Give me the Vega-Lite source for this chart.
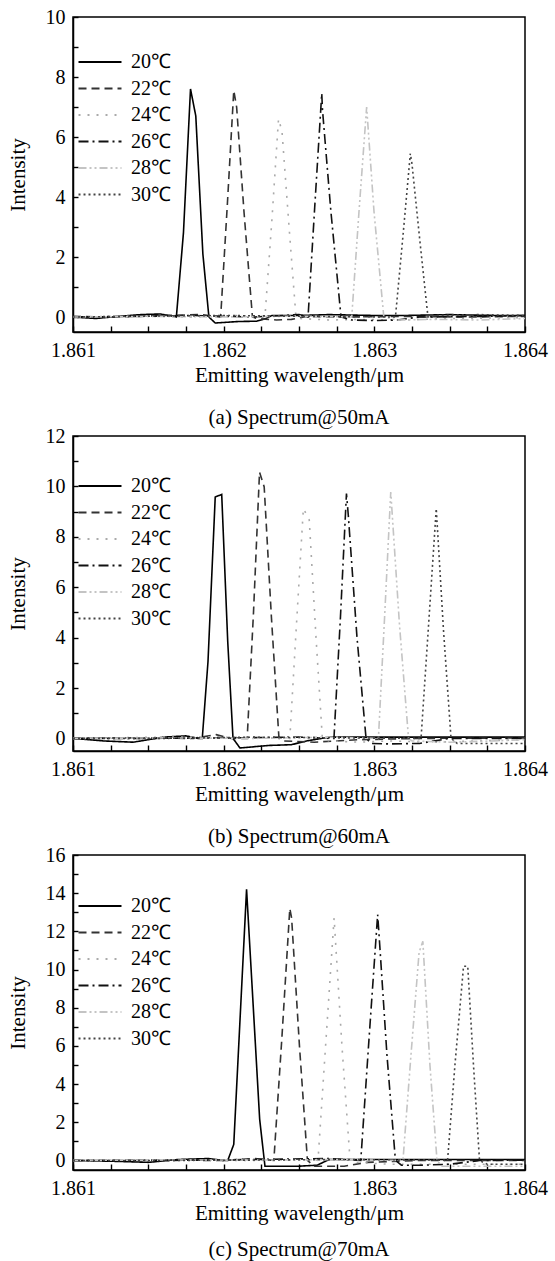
{
  "$schema": "https://vega.github.io/schema/vega-lite/v6.json",
  "background": "white",
  "padding": {"left": 6, "top": 6, "right": 0, "bottom": 0},
  "spacing": -4,
  "config": {
    "font": "Liberation Serif",
    "axis": {"labelFont": "Liberation Serif", "titleFont": "Liberation Serif", "labelFontSize": 20, "titleFontSize": 21, "titleFontWeight": "normal", "labelColor": "black", "titleColor": "black", "domainColor": "black", "tickColor": "black", "grid": false, "domainWidth": 1.5, "tickWidth": 1.4, "labelOverlap": false, "labelFlush": false, "ticks": true},
    "view": {"stroke": "black", "strokeWidth": 1.5},
    "title": {"font": "Liberation Serif", "fontSize": 21, "fontWeight": "normal", "color": "black"},
    "legend": {"labelFont": "Liberation Serif", "labelFontSize": 20, "labelColor": "black"}
  },
  "data": {"values": [
    {"p":"a","t":"20℃","w":1.861,"v":0},{"p":"a","t":"20℃","w":1.86115,"v":-0.05},{"p":"a","t":"20℃","w":1.8613,"v":0.02},{"p":"a","t":"20℃","w":1.86145,"v":0.08},{"p":"a","t":"20℃","w":1.86158,"v":0.1},{"p":"a","t":"20℃","w":1.86167,"v":0.02},{"p":"a","t":"20℃","w":1.861686,"v":0},{"p":"a","t":"20℃","w":1.861733,"v":2.8},{"p":"a","t":"20℃","w":1.86178,"v":7.6},{"p":"a","t":"20℃","w":1.861815,"v":6.7},{"p":"a","t":"20℃","w":1.861862,"v":2.1},{"p":"a","t":"20℃","w":1.861902,"v":0},{"p":"a","t":"20℃","w":1.861944,"v":-0.2},{"p":"a","t":"20℃","w":1.8621,"v":-0.15},{"p":"a","t":"20℃","w":1.86222,"v":-0.14},{"p":"a","t":"20℃","w":1.86228,"v":-0.05},{"p":"a","t":"20℃","w":1.86232,"v":0.05},{"p":"a","t":"20℃","w":1.8625,"v":0.05},{"p":"a","t":"20℃","w":1.8627,"v":0.08},{"p":"a","t":"20℃","w":1.863,"v":0.05},{"p":"a","t":"20℃","w":1.8632,"v":0.05},{"p":"a","t":"20℃","w":1.8635,"v":0.08},{"p":"a","t":"20℃","w":1.8638,"v":0.05},{"p":"a","t":"20℃","w":1.864,"v":0.05},
    {"p":"a","t":"22℃","w":1.861,"v":0.02},{"p":"a","t":"22℃","w":1.8613,"v":0},{"p":"a","t":"22℃","w":1.8616,"v":0.05},{"p":"a","t":"22℃","w":1.86185,"v":0.08},{"p":"a","t":"22℃","w":1.86194,"v":0.02},{"p":"a","t":"22℃","w":1.86198,"v":0},{"p":"a","t":"22℃","w":1.862025,"v":3.8},{"p":"a","t":"22℃","w":1.862067,"v":7.55},{"p":"a","t":"22℃","w":1.862086,"v":7.0},{"p":"a","t":"22℃","w":1.862135,"v":3.5},{"p":"a","t":"22℃","w":1.862191,"v":0},{"p":"a","t":"22℃","w":1.86222,"v":-0.05},{"p":"a","t":"22℃","w":1.86235,"v":-0.1},{"p":"a","t":"22℃","w":1.86245,"v":-0.08},{"p":"a","t":"22℃","w":1.86255,"v":0.02},{"p":"a","t":"22℃","w":1.8628,"v":0},{"p":"a","t":"22℃","w":1.8632,"v":0.02},{"p":"a","t":"22℃","w":1.8636,"v":0},{"p":"a","t":"22℃","w":1.864,"v":0.02},
    {"p":"a","t":"24℃","w":1.861,"v":0},{"p":"a","t":"24℃","w":1.8614,"v":0.03},{"p":"a","t":"24℃","w":1.8618,"v":0},{"p":"a","t":"24℃","w":1.8621,"v":0.05},{"p":"a","t":"24℃","w":1.862274,"v":0},{"p":"a","t":"24℃","w":1.862321,"v":3.3},{"p":"a","t":"24℃","w":1.862364,"v":6.6},{"p":"a","t":"24℃","w":1.862387,"v":6.2},{"p":"a","t":"24℃","w":1.862434,"v":3.0},{"p":"a","t":"24℃","w":1.86248,"v":0},{"p":"a","t":"24℃","w":1.8625,"v":-0.05},{"p":"a","t":"24℃","w":1.8627,"v":-0.1},{"p":"a","t":"24℃","w":1.8629,"v":-0.08},{"p":"a","t":"24℃","w":1.8632,"v":-0.1},{"p":"a","t":"24℃","w":1.8635,"v":-0.05},{"p":"a","t":"24℃","w":1.864,"v":-0.02},
    {"p":"a","t":"26℃","w":1.861,"v":0},{"p":"a","t":"26℃","w":1.8614,"v":0.02},{"p":"a","t":"26℃","w":1.8618,"v":0.05},{"p":"a","t":"26℃","w":1.8622,"v":0},{"p":"a","t":"26℃","w":1.8625,"v":0.08},{"p":"a","t":"26℃","w":1.86256,"v":0},{"p":"a","t":"26℃","w":1.862606,"v":3.8},{"p":"a","t":"26℃","w":1.862651,"v":7.45},{"p":"a","t":"26℃","w":1.862656,"v":6.9},{"p":"a","t":"26℃","w":1.862712,"v":3.5},{"p":"a","t":"26℃","w":1.862779,"v":0},{"p":"a","t":"26℃","w":1.86285,"v":-0.1},{"p":"a","t":"26℃","w":1.863,"v":-0.12},{"p":"a","t":"26℃","w":1.86315,"v":-0.1},{"p":"a","t":"26℃","w":1.8633,"v":0},{"p":"a","t":"26℃","w":1.8637,"v":0.02},{"p":"a","t":"26℃","w":1.864,"v":0.05},
    {"p":"a","t":"28℃","w":1.861,"v":0},{"p":"a","t":"28℃","w":1.8615,"v":0.02},{"p":"a","t":"28℃","w":1.862,"v":0},{"p":"a","t":"28℃","w":1.8625,"v":0.03},{"p":"a","t":"28℃","w":1.86285,"v":0},{"p":"a","t":"28℃","w":1.862898,"v":3.5},{"p":"a","t":"28℃","w":1.862949,"v":7.0},{"p":"a","t":"28℃","w":1.862998,"v":3.5},{"p":"a","t":"28℃","w":1.863063,"v":0},{"p":"a","t":"28℃","w":1.86315,"v":-0.1},{"p":"a","t":"28℃","w":1.8634,"v":-0.08},{"p":"a","t":"28℃","w":1.8637,"v":-0.1},{"p":"a","t":"28℃","w":1.864,"v":-0.05},
    {"p":"a","t":"30℃","w":1.861,"v":0},{"p":"a","t":"30℃","w":1.8615,"v":0.03},{"p":"a","t":"30℃","w":1.862,"v":0.05},{"p":"a","t":"30℃","w":1.8626,"v":0.02},{"p":"a","t":"30℃","w":1.86314,"v":0},{"p":"a","t":"30℃","w":1.86319,"v":2.7},{"p":"a","t":"30℃","w":1.863239,"v":5.45},{"p":"a","t":"30℃","w":1.86325,"v":5.1},{"p":"a","t":"30℃","w":1.863303,"v":2.5},{"p":"a","t":"30℃","w":1.863356,"v":0},{"p":"a","t":"30℃","w":1.8634,"v":0.05},{"p":"a","t":"30℃","w":1.8637,"v":0.08},{"p":"a","t":"30℃","w":1.864,"v":0.05},

    {"p":"b","t":"20℃","w":1.861,"v":0},{"p":"b","t":"20℃","w":1.8612,"v":-0.1},{"p":"b","t":"20℃","w":1.8614,"v":-0.15},{"p":"b","t":"20℃","w":1.8616,"v":0.05},{"p":"b","t":"20℃","w":1.86175,"v":0.1},{"p":"b","t":"20℃","w":1.86183,"v":0},{"p":"b","t":"20℃","w":1.861858,"v":0},{"p":"b","t":"20℃","w":1.861896,"v":3.05},{"p":"b","t":"20℃","w":1.861944,"v":9.58},{"p":"b","t":"20℃","w":1.861987,"v":9.68},{"p":"b","t":"20℃","w":1.862027,"v":3.84},{"p":"b","t":"20℃","w":1.862062,"v":0},{"p":"b","t":"20℃","w":1.862108,"v":-0.38},{"p":"b","t":"20℃","w":1.8623,"v":-0.28},{"p":"b","t":"20℃","w":1.86245,"v":-0.25},{"p":"b","t":"20℃","w":1.86255,"v":-0.1},{"p":"b","t":"20℃","w":1.8627,"v":0.05},{"p":"b","t":"20℃","w":1.863,"v":0.05},{"p":"b","t":"20℃","w":1.8634,"v":0.05},{"p":"b","t":"20℃","w":1.864,"v":0.05},
    {"p":"b","t":"22℃","w":1.861,"v":0},{"p":"b","t":"22℃","w":1.8614,"v":0.02},{"p":"b","t":"22℃","w":1.8618,"v":0},{"p":"b","t":"22℃","w":1.86195,"v":0.15},{"p":"b","t":"22℃","w":1.86205,"v":0},{"p":"b","t":"22℃","w":1.862156,"v":0},{"p":"b","t":"22℃","w":1.862198,"v":5.0},{"p":"b","t":"22℃","w":1.862238,"v":10.57},{"p":"b","t":"22℃","w":1.862269,"v":9.98},{"p":"b","t":"22℃","w":1.862317,"v":4.8},{"p":"b","t":"22℃","w":1.862367,"v":0},{"p":"b","t":"22℃","w":1.8624,"v":-0.1},{"p":"b","t":"22℃","w":1.8626,"v":-0.15},{"p":"b","t":"22℃","w":1.8629,"v":-0.05},{"p":"b","t":"22℃","w":1.8633,"v":0},{"p":"b","t":"22℃","w":1.864,"v":0.02},
    {"p":"b","t":"24℃","w":1.861,"v":0},{"p":"b","t":"24℃","w":1.8616,"v":0.05},{"p":"b","t":"24℃","w":1.862,"v":0.05},{"p":"b","t":"24℃","w":1.8623,"v":0.02},{"p":"b","t":"24℃","w":1.862439,"v":0},{"p":"b","t":"24℃","w":1.862483,"v":4.5},{"p":"b","t":"24℃","w":1.862529,"v":9.12},{"p":"b","t":"24℃","w":1.862568,"v":8.67},{"p":"b","t":"24℃","w":1.862613,"v":4.0},{"p":"b","t":"24℃","w":1.862655,"v":0},{"p":"b","t":"24℃","w":1.8627,"v":-0.1},{"p":"b","t":"24℃","w":1.8629,"v":-0.15},{"p":"b","t":"24℃","w":1.8631,"v":-0.1},{"p":"b","t":"24℃","w":1.8634,"v":-0.15},{"p":"b","t":"24℃","w":1.8637,"v":-0.1},{"p":"b","t":"24℃","w":1.864,"v":-0.05},
    {"p":"b","t":"26℃","w":1.861,"v":0},{"p":"b","t":"26℃","w":1.8615,"v":0},{"p":"b","t":"26℃","w":1.862,"v":0.02},{"p":"b","t":"26℃","w":1.8625,"v":0.05},{"p":"b","t":"26℃","w":1.862732,"v":0},{"p":"b","t":"26℃","w":1.862775,"v":4.8},{"p":"b","t":"26℃","w":1.862815,"v":9.72},{"p":"b","t":"26℃","w":1.862827,"v":8.87},{"p":"b","t":"26℃","w":1.862885,"v":4.0},{"p":"b","t":"26℃","w":1.862945,"v":0},{"p":"b","t":"26℃","w":1.86298,"v":-0.2},{"p":"b","t":"26℃","w":1.8631,"v":-0.22},{"p":"b","t":"26℃","w":1.8633,"v":-0.2},{"p":"b","t":"26℃","w":1.8635,"v":0},{"p":"b","t":"26℃","w":1.864,"v":0},
    {"p":"b","t":"28℃","w":1.861,"v":0},{"p":"b","t":"28℃","w":1.8616,"v":0.02},{"p":"b","t":"28℃","w":1.8622,"v":0},{"p":"b","t":"28℃","w":1.8627,"v":0.05},{"p":"b","t":"28℃","w":1.863027,"v":0},{"p":"b","t":"28℃","w":1.863068,"v":4.8},{"p":"b","t":"28℃","w":1.863109,"v":9.78},{"p":"b","t":"28℃","w":1.863167,"v":4.5},{"p":"b","t":"28℃","w":1.863227,"v":0},{"p":"b","t":"28℃","w":1.86325,"v":-0.1},{"p":"b","t":"28℃","w":1.8635,"v":-0.15},{"p":"b","t":"28℃","w":1.8638,"v":-0.1},{"p":"b","t":"28℃","w":1.864,"v":-0.05},
    {"p":"b","t":"30℃","w":1.861,"v":0},{"p":"b","t":"30℃","w":1.8616,"v":0},{"p":"b","t":"30℃","w":1.8622,"v":0.05},{"p":"b","t":"30℃","w":1.8628,"v":0.02},{"p":"b","t":"30℃","w":1.86331,"v":0},{"p":"b","t":"30℃","w":1.86336,"v":4.5},{"p":"b","t":"30℃","w":1.863411,"v":9.12},{"p":"b","t":"30℃","w":1.863459,"v":4.3},{"p":"b","t":"30℃","w":1.863509,"v":0},{"p":"b","t":"30℃","w":1.86355,"v":-0.2},{"p":"b","t":"30℃","w":1.8637,"v":-0.2},{"p":"b","t":"30℃","w":1.8639,"v":-0.2},{"p":"b","t":"30℃","w":1.864,"v":-0.2},

    {"p":"c","t":"20℃","w":1.861,"v":0},{"p":"c","t":"20℃","w":1.8613,"v":-0.05},{"p":"c","t":"20℃","w":1.8615,"v":-0.1},{"p":"c","t":"20℃","w":1.8617,"v":0.05},{"p":"c","t":"20℃","w":1.8619,"v":0.1},{"p":"c","t":"20℃","w":1.862,"v":0},{"p":"c","t":"20℃","w":1.862027,"v":0},{"p":"c","t":"20℃","w":1.862067,"v":0.84},{"p":"c","t":"20℃","w":1.862152,"v":14.2},{"p":"c","t":"20℃","w":1.862239,"v":2.15},{"p":"c","t":"20℃","w":1.862274,"v":-0.3},{"p":"c","t":"20℃","w":1.8625,"v":-0.3},{"p":"c","t":"20℃","w":1.86262,"v":-0.25},{"p":"c","t":"20℃","w":1.8627,"v":0.05},{"p":"c","t":"20℃","w":1.863,"v":0.05},{"p":"c","t":"20℃","w":1.8634,"v":0.05},{"p":"c","t":"20℃","w":1.864,"v":0.05},
    {"p":"c","t":"22℃","w":1.861,"v":0},{"p":"c","t":"22℃","w":1.8615,"v":0.02},{"p":"c","t":"22℃","w":1.862,"v":0},{"p":"c","t":"22℃","w":1.8622,"v":0.1},{"p":"c","t":"22℃","w":1.862333,"v":0},{"p":"c","t":"22℃","w":1.862387,"v":6.5},{"p":"c","t":"22℃","w":1.862439,"v":13.2},{"p":"c","t":"22℃","w":1.862451,"v":12.7},{"p":"c","t":"22℃","w":1.862503,"v":6.0},{"p":"c","t":"22℃","w":1.862556,"v":0},{"p":"c","t":"22℃","w":1.8626,"v":-0.3},{"p":"c","t":"22℃","w":1.8628,"v":-0.3},{"p":"c","t":"22℃","w":1.86295,"v":-0.1},{"p":"c","t":"22℃","w":1.8633,"v":0},{"p":"c","t":"22℃","w":1.864,"v":0},
    {"p":"c","t":"24℃","w":1.861,"v":0},{"p":"c","t":"24℃","w":1.8616,"v":0.03},{"p":"c","t":"24℃","w":1.8622,"v":0},{"p":"c","t":"24℃","w":1.8626,"v":0.05},{"p":"c","t":"24℃","w":1.862626,"v":0},{"p":"c","t":"24℃","w":1.862679,"v":6.3},{"p":"c","t":"24℃","w":1.862733,"v":12.7},{"p":"c","t":"24℃","w":1.862785,"v":6.0},{"p":"c","t":"24℃","w":1.862839,"v":0},{"p":"c","t":"24℃","w":1.86288,"v":-0.1},{"p":"c","t":"24℃","w":1.8631,"v":-0.2},{"p":"c","t":"24℃","w":1.8634,"v":-0.2},{"p":"c","t":"24℃","w":1.8637,"v":-0.2},{"p":"c","t":"24℃","w":1.864,"v":-0.2},
    {"p":"c","t":"26℃","w":1.861,"v":0},{"p":"c","t":"26℃","w":1.8616,"v":0},{"p":"c","t":"26℃","w":1.8622,"v":0.05},{"p":"c","t":"26℃","w":1.8627,"v":0.1},{"p":"c","t":"26℃","w":1.86291,"v":0},{"p":"c","t":"26℃","w":1.862965,"v":6.4},{"p":"c","t":"26℃","w":1.863022,"v":12.88},{"p":"c","t":"26℃","w":1.863032,"v":11.74},{"p":"c","t":"26℃","w":1.863084,"v":5.5},{"p":"c","t":"26℃","w":1.86314,"v":0},{"p":"c","t":"26℃","w":1.86318,"v":-0.25},{"p":"c","t":"26℃","w":1.8633,"v":-0.25},{"p":"c","t":"26℃","w":1.8635,"v":-0.2},{"p":"c","t":"26℃","w":1.8637,"v":0},{"p":"c","t":"26℃","w":1.864,"v":0.02},
    {"p":"c","t":"28℃","w":1.861,"v":0},{"p":"c","t":"28℃","w":1.8616,"v":0.02},{"p":"c","t":"28℃","w":1.8622,"v":0.02},{"p":"c","t":"28℃","w":1.8628,"v":0.05},{"p":"c","t":"28℃","w":1.86319,"v":0},{"p":"c","t":"28℃","w":1.863243,"v":5.5},{"p":"c","t":"28℃","w":1.863297,"v":10.9},{"p":"c","t":"28℃","w":1.863322,"v":11.48},{"p":"c","t":"28℃","w":1.863369,"v":5.0},{"p":"c","t":"28℃","w":1.863416,"v":0},{"p":"c","t":"28℃","w":1.86345,"v":-0.3},{"p":"c","t":"28℃","w":1.8637,"v":-0.3},{"p":"c","t":"28℃","w":1.864,"v":-0.3},
    {"p":"c","t":"30℃","w":1.861,"v":0},{"p":"c","t":"30℃","w":1.8616,"v":0},{"p":"c","t":"30℃","w":1.8622,"v":0.02},{"p":"c","t":"30℃","w":1.8628,"v":0.05},{"p":"c","t":"30℃","w":1.8634,"v":0.02},{"p":"c","t":"30℃","w":1.863486,"v":0},{"p":"c","t":"30℃","w":1.863535,"v":5.0},{"p":"c","t":"30℃","w":1.863592,"v":10.17},{"p":"c","t":"30℃","w":1.86362,"v":10.17},{"p":"c","t":"30℃","w":1.863658,"v":5.0},{"p":"c","t":"30℃","w":1.863698,"v":0},{"p":"c","t":"30℃","w":1.86375,"v":-0.2},{"p":"c","t":"30℃","w":1.864,"v":-0.2}
  ]},
  "vconcat": [
    {
      "width": 452, "height": 315,
      "title": {"text": "(a) Spectrum@50mA", "orient": "bottom", "anchor": "middle", "frame": "group", "offset": 22},
      "transform": [{"filter": "datum.p == 'a'"}],
      "mark": {"type": "line", "strokeWidth": 1.6, "clip": true},
      "encoding": {
        "x": {"field": "w", "type": "quantitative", "scale": {"domain": [1.861, 1.864], "nice": false, "zero": false},
              "axis": {"title": "Emitting wavelength/μm", "values": [1.861,1.86125,1.8615,1.86175,1.862,1.86225,1.8625,1.86275,1.863,1.86325,1.8635,1.86375,1.864],
                       "labelExpr": "abs(datum.value*1000-round(datum.value*1000))<0.001 ? format(datum.value,'.3f') : ''",
                       "tickSize": -6, "labelPadding": 14, "titlePadding": 4}},
        "y": {"field": "v", "type": "quantitative", "scale": {"domain": [-0.5, 10], "nice": false, "zero": false},
              "axis": {"title": "Intensity", "values": [0,1,2,3,4,5,6,7,8,9,10],
                       "labelExpr": "datum.value % 2 == 0 ? datum.value : ''",
                       "tickSize": -5, "labelPadding": 13, "titlePadding": 17}},
        "color": {"field": "t", "type": "nominal",
                  "scale": {"domain": ["20℃","22℃","24℃","26℃","28℃","30℃"], "range": ["#000000","#333333","#aaaaaa","#111111","#c4c4c4","#444444"]},
                  "legend": {"title": null, "orient": "none", "legendX": 15, "legendY": 33, "symbolType": "M-2,0H2", "symbolSize": 462, "symbolStrokeWidth": 2, "labelOffset": 19, "rowPadding": 4.5}},
        "strokeDash": {"field": "t", "type": "nominal",
                  "scale": {"domain": ["20℃","22℃","24℃","26℃","28℃","30℃"], "range": [[1,0],[8,5],[2,7],[10,4,2,4],[8,3,2,3,2,3],[2,3]]},
                  "legend": {"title": null, "orient": "none", "legendX": 15, "legendY": 33, "symbolType": "M-2,0H2", "symbolSize": 462, "symbolStrokeWidth": 2, "labelOffset": 19, "rowPadding": 4.5}}
      }
    },
    {
      "width": 452, "height": 315,
      "title": {"text": "(b) Spectrum@60mA", "orient": "bottom", "anchor": "middle", "frame": "group", "offset": 22},
      "transform": [{"filter": "datum.p == 'b'"}],
      "mark": {"type": "line", "strokeWidth": 1.6, "clip": true},
      "encoding": {
        "x": {"field": "w", "type": "quantitative", "scale": {"domain": [1.861, 1.864], "nice": false, "zero": false},
              "axis": {"title": "Emitting wavelength/μm", "values": [1.861,1.86125,1.8615,1.86175,1.862,1.86225,1.8625,1.86275,1.863,1.86325,1.8635,1.86375,1.864],
                       "labelExpr": "abs(datum.value*1000-round(datum.value*1000))<0.001 ? format(datum.value,'.3f') : ''",
                       "tickSize": -6, "labelPadding": 14, "titlePadding": 4}},
        "y": {"field": "v", "type": "quantitative", "scale": {"domain": [-0.5, 12], "nice": false, "zero": false},
              "axis": {"title": "Intensity", "values": [0,1,2,3,4,5,6,7,8,9,10,11,12],
                       "labelExpr": "datum.value % 2 == 0 ? datum.value : ''",
                       "tickSize": -5, "labelPadding": 13, "titlePadding": 17}},
        "color": {"field": "t", "type": "nominal",
                  "scale": {"domain": ["20℃","22℃","24℃","26℃","28℃","30℃"], "range": ["#000000","#333333","#aaaaaa","#111111","#c4c4c4","#444444"]},
                  "legend": {"title": null, "orient": "none", "legendX": 15, "legendY": 38, "symbolType": "M-2,0H2", "symbolSize": 462, "symbolStrokeWidth": 2, "labelOffset": 19, "rowPadding": 4.5}},
        "strokeDash": {"field": "t", "type": "nominal",
                  "scale": {"domain": ["20℃","22℃","24℃","26℃","28℃","30℃"], "range": [[1,0],[8,5],[2,7],[10,4,2,4],[8,3,2,3,2,3],[2,3]]},
                  "legend": {"title": null, "orient": "none", "legendX": 15, "legendY": 38, "symbolType": "M-2,0H2", "symbolSize": 462, "symbolStrokeWidth": 2, "labelOffset": 19, "rowPadding": 4.5}}
      }
    },
    {
      "width": 452, "height": 315,
      "title": {"text": "(c) Spectrum@70mA", "orient": "bottom", "anchor": "middle", "frame": "group", "offset": 16},
      "transform": [{"filter": "datum.p == 'c'"}],
      "mark": {"type": "line", "strokeWidth": 1.6, "clip": true},
      "encoding": {
        "x": {"field": "w", "type": "quantitative", "scale": {"domain": [1.861, 1.864], "nice": false, "zero": false},
              "axis": {"title": "Emitting wavelength/μm", "values": [1.861,1.86125,1.8615,1.86175,1.862,1.86225,1.8625,1.86275,1.863,1.86325,1.8635,1.86375,1.864],
                       "labelExpr": "abs(datum.value*1000-round(datum.value*1000))<0.001 ? format(datum.value,'.3f') : ''",
                       "tickSize": -6, "labelPadding": 14, "titlePadding": 4}},
        "y": {"field": "v", "type": "quantitative", "scale": {"domain": [-0.5, 16], "nice": false, "zero": false},
              "axis": {"title": "Intensity", "values": [0,1,2,3,4,5,6,7,8,9,10,11,12,13,14,15,16],
                       "labelExpr": "datum.value % 2 == 0 ? datum.value : ''",
                       "tickSize": -5, "labelPadding": 13, "titlePadding": 17}},
        "color": {"field": "t", "type": "nominal",
                  "scale": {"domain": ["20℃","22℃","24℃","26℃","28℃","30℃"], "range": ["#000000","#333333","#aaaaaa","#111111","#c4c4c4","#444444"]},
                  "legend": {"title": null, "orient": "none", "legendX": 15, "legendY": 39, "symbolType": "M-2,0H2", "symbolSize": 462, "symbolStrokeWidth": 2, "labelOffset": 19, "rowPadding": 4.5}},
        "strokeDash": {"field": "t", "type": "nominal",
                  "scale": {"domain": ["20℃","22℃","24℃","26℃","28℃","30℃"], "range": [[1,0],[8,5],[2,7],[10,4,2,4],[8,3,2,3,2,3],[2,3]]},
                  "legend": {"title": null, "orient": "none", "legendX": 15, "legendY": 39, "symbolType": "M-2,0H2", "symbolSize": 462, "symbolStrokeWidth": 2, "labelOffset": 19, "rowPadding": 4.5}}
      }
    }
  ],
  "resolve": {"scale": {"y": "independent", "color": "independent", "strokeDash": "independent"}, "legend": {"color": "independent", "strokeDash": "independent"}}
}
